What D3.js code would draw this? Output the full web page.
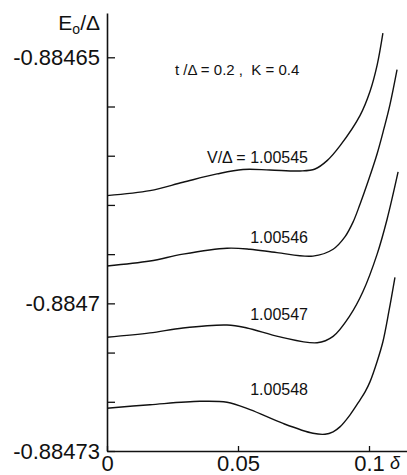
<!DOCTYPE html>
<html>
<head>
<meta charset="utf-8">
<script src="https://cdn.jsdelivr.net/npm/d3@7"></script>
<style>
  html, body { margin: 0; padding: 0; background: #fff; }
  svg { display: block; }
  text { font-family: "Liberation Sans", Arial, Helvetica, sans-serif; fill: #111; }
</style>
</head>
<body>
<svg id="chart" width="407" height="475"></svg>
<script>
// Ground-state energy E0/Δ versus δ for four values of V/Δ (t/Δ = 0.2, K = 0.4)
const seriesLabels = ["V/\u0394 = 1.00545", "1.00546", "1.00547", "1.00548"];

const delta545 = [0, 0.0164, 0.0290, 0.0420, 0.0519, 0.0622, 0.0737, 0.0794, 0.0840, 0.0889, 0.0966, 0.1004, 0.1031, 0.1053];
const energy545 = [-0.8846781, -0.8846771, -0.8846754, -0.8846737, -0.8846728, -0.8846729, -0.8846731, -0.8846727, -0.8846710, -0.8846680, -0.8846618, -0.8846569, -0.8846516, -0.8846451];

const delta546 = [0, 0.0164, 0.0290, 0.0458, 0.0546, 0.0649, 0.0786, 0.0863, 0.0908, 0.0939, 0.0966, 0.0996, 0.1031, 0.1057, 0.1080, 0.1107];
const energy546 = [-0.8846924, -0.8846914, -0.8846900, -0.8846888, -0.8846890, -0.8846897, -0.8846904, -0.8846890, -0.8846865, -0.8846835, -0.8846798, -0.8846753, -0.8846696, -0.8846645, -0.8846596, -0.8846525];

const delta547 = [0, 0.0164, 0.0290, 0.0458, 0.0534, 0.0660, 0.0802, 0.0863, 0.0927, 0.0977, 0.1031, 0.1069, 0.1111];
const energy547 = [-0.8847069, -0.8847060, -0.8847050, -0.8847044, -0.8847050, -0.8847068, -0.8847080, -0.8847067, -0.8847025, -0.8846976, -0.8846900, -0.8846829, -0.8846733];

const delta548 = [0, 0.0164, 0.0355, 0.0458, 0.0546, 0.0672, 0.0786, 0.0832, 0.0863, 0.0889, 0.0927, 0.0966, 0.0985, 0.1004, 0.1031, 0.1053, 0.1076, 0.1099];
const energy548 = [-0.8847213, -0.8847206, -0.8847199, -0.8847201, -0.8847216, -0.8847244, -0.8847264, -0.8847266, -0.8847261, -0.8847251, -0.8847227, -0.8847196, -0.8847180, -0.8847159, -0.8847118, -0.8847078, -0.8847016, -0.8846947];

const xTicks = [0, 0.05, 0.1];
const xTickLabels = ["0", "0.05", "0.1"];
const yTicks = [-0.88473, -0.88472, -0.88471, -0.8847, -0.88469, -0.88468, -0.88467, -0.88466, -0.88465];
const yTickLabels = ["-0.88473", "-0.8847", "-0.88465"];

const xDomain = [0, 0.1145];
const yDomain = [-0.88473, -0.884641];

// ---- layout ----
const svg = d3.select("#chart");
const plotLeft = 107, plotRight = 407, plotBottom = 451, plotTop = 13;

const x = d3.scaleLinear().domain(xDomain).range([plotLeft, plotRight]);
const y = d3.scaleLinear().domain(yDomain).range([plotBottom, plotTop]);

const seriesList = [
  { label: seriesLabels[0], xs: delta545, ys: energy545, labelY: 163 },
  { label: seriesLabels[1], xs: delta546, ys: energy546, labelY: 243 },
  { label: seriesLabels[2], xs: delta547, ys: energy547, labelY: 320 },
  { label: seriesLabels[3], xs: delta548, ys: energy548, labelY: 395 }
];

// curves
const line = d3.line()
  .x(d => x(d[0]))
  .y(d => y(d[1]))
  .curve(d3.curveCatmullRom.alpha(0.5));

svg.append("g")
  .selectAll("path")
  .data(seriesList)
  .join("path")
  .attr("d", s => line(s.xs.map((v, i) => [v, s.ys[i]])))
  .attr("fill", "none")
  .attr("stroke", "#111")
  .attr("stroke-width", 1.4);

// y axis: ticks pointing inward, labels on the left
const yAxis = d3.axisLeft(y)
  .tickValues(yTicks)
  .tickSizeInner(-8)
  .tickSizeOuter(0)
  .tickPadding(7)
  .tickFormat(d => {
    const s = String(parseFloat(d.toFixed(5)));
    return yTickLabels.includes(s) ? s : "";
  });

const gy = svg.append("g").attr("transform", `translate(${plotLeft},0)`).call(yAxis);
gy.select(".domain").attr("stroke", "#111").attr("stroke-width", 1.6);
gy.selectAll(".tick line").attr("stroke", "#111").attr("stroke-width", 1.3);
gy.selectAll(".tick text").attr("font-size", 22).attr("fill", "#111")
  .style("font-family", "'Liberation Sans', Arial, sans-serif");

// x axis: ticks pointing up
const xAxis = d3.axisBottom(x)
  .tickValues(xTicks)
  .tickSizeInner(-5)
  .tickSizeOuter(0)
  .tickPadding(4)
  .tickFormat((d, i) => xTickLabels[i]);

const gx = svg.append("g").attr("transform", `translate(0,${plotBottom})`).call(xAxis);
gx.select(".domain").attr("stroke", "#111").attr("stroke-width", 1.6);
gx.selectAll(".tick line").attr("stroke", "#111").attr("stroke-width", 1.3);
gx.selectAll(".tick text").attr("font-size", 22).attr("fill", "#111")
  .style("font-family", "'Liberation Sans', Arial, sans-serif");

// axis titles
const yTitle = svg.append("text")
  .attr("x", 100).attr("y", 30)
  .attr("text-anchor", "end")
  .attr("font-size", 21);
yTitle.append("tspan").text("E");
yTitle.append("tspan").attr("font-size", 14).attr("dy", 4).text("o");
yTitle.append("tspan").attr("dy", -4).text("/\u0394");

svg.append("text")
  .attr("x", 390).attr("y", 469)
  .attr("font-size", 18)
  .attr("font-style", "italic")
  .text("\u03b4");

// parameter note
svg.append("text")
  .attr("x", 175).attr("y", 75)
  .attr("font-size", 15)
  .attr("xml:space", "preserve")
  .text("t /\u0394 = 0.2 ,  K = 0.4");

// curve labels
svg.append("g")
  .selectAll("text")
  .data(seriesList)
  .join("text")
  .attr("x", 308)
  .attr("y", s => s.labelY)
  .attr("text-anchor", "end")
  .attr("font-size", 16)
  .text(s => s.label);
</script>
</body>
</html>
